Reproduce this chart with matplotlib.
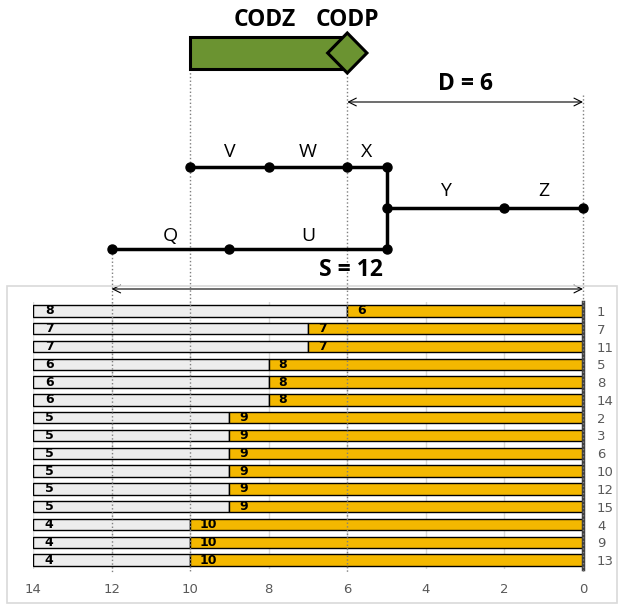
import matplotlib.pyplot as plt
from matplotlib.patches import Rectangle, Polygon

plt.rcParams["font.family"] = ["Open Sans", "DejaVu Sans"]

# bar chart data (top to bottom)
activities = ["1", "7", "11", "5", "8", "14", "2", "3", "6", "10", "12", "15", "4", "9", "13"]
slack = [6, 7, 7, 8, 8, 8, 9, 9, 9, 9, 9, 9, 10, 10, 10]
rest = [8, 7, 7, 6, 6, 6, 5, 5, 5, 5, 5, 5, 4, 4, 4]
horizon = 14

# network diagram: node times on each path
path_vwx = [10, 8, 6, 5]
path_yz = [5, 2, 0]
path_qu = [12, 9, 5]
codz, codp = 10, 6
d_val, s_val = 6, 12

W, H = 618, 604
fig = plt.figure(figsize=(W / 100, H / 100), dpi=100)

# chart frame
fig.patches.append(Rectangle((7 / W, 1 / H), 610 / W, 317 / H, transform=fig.transFigure,
                             fill=False, edgecolor="#D9D9D9", lw=1.2))

x0, x1 = 33 / W, 550 / W
ax = fig.add_axes([x0, 35 / H, x1, 267 / H])
ypos = list(range(len(activities)))
left = [horizon - r for r in rest]
ax.barh(ypos, rest, left=left, height=0.65, color="#EDEDED", edgecolor="black", lw=1, zorder=2)
ax.barh(ypos, slack, left=0, height=0.65, color="#F4B800", edgecolor="black", lw=1, zorder=2)
num = dict(va="center", ha="left", fontsize=9, fontweight="bold", family="DejaVu Sans", zorder=3)
for y, r, s in zip(ypos, rest, slack):
    ax.text(horizon - 0.3, y, str(r), **num)
    ax.text(s - 0.25, y, str(s), **num)
ax.set_xlim(horizon, 0)
ax.set_ylim(len(activities) - 0.5, -0.5)
ax.set_xticks(range(0, horizon + 1, 2))
ax.set_yticks(ypos)
ax.set_yticklabels(activities, family="DejaVu Sans")
for t in ax.get_xticklabels():
    t.set_family("DejaVu Sans")
ax.yaxis.tick_right()
ax.tick_params(axis="y", length=0, pad=10, labelsize=9.5, labelcolor="#595959")
ax.tick_params(axis="x", length=0, pad=10, labelsize=9.5, labelcolor="#595959")
ax.grid(axis="x", color="#D9D9D9", lw=1, zorder=0)
for side in ["left", "top", "bottom"]:
    ax.spines[side].set_visible(False)
ax.spines["right"].set_color("#404040")
ax.spines["right"].set_linewidth(2.5)

# overlay for the diagram, y in pixels from top
top = fig.add_axes([x0, 0, x1, 1])
top.set_xlim(horizon, 0)
top.set_ylim(H, 0)
top.axis("off")
top.patch.set_alpha(0)

bar_bottom = 572
for xv, ys in [(codz, 69), (codp, 73), (0, 95), (path_qu[0], 250)]:
    top.plot([xv, xv], [ys, bar_bottom], ls=":", color="#7F7F7F", lw=1, zorder=1, clip_on=False)

# CODZ / CODP bar
top.add_patch(Rectangle((codp, 37), codz - codp, 32, facecolor="#6B9331", edgecolor="black", lw=2.2, zorder=3))
top.add_patch(Polygon([(codp, 33), (codp - 0.5, 53), (codp, 73), (codp + 0.5, 53)],
                      closed=True, facecolor="#6B9331", edgecolor="black", lw=2.2, zorder=4))
big = dict(ha="center", va="center", fontsize=16.5, fontweight="bold")
top.text((codz + codp) / 2 + 0.1, 20, "CODZ", **big)
top.text(codp, 20, "CODP", **big)

# dimension arrows
arrow = dict(arrowstyle="<->", color="black", lw=0.8, shrinkA=0, shrinkB=0, mutation_scale=14)
top.annotate("", xy=(0, 102), xytext=(d_val, 102), arrowprops=arrow, annotation_clip=False)
top.text(d_val / 2, 84, f"D = {d_val}", **big)
top.annotate("", xy=(0, 289), xytext=(s_val, 289), arrowprops=arrow, annotation_clip=False)
top.text(s_val / 2 - 0.1, 270, f"S = {s_val}", **big)

# network paths
y_top, y_mid, y_bot = 167, 208, 249
node = dict(color="black", lw=2.5, marker="o", ms=6.5, zorder=5, clip_on=False)
top.plot(path_vwx, [y_top] * len(path_vwx), **node)
top.plot(path_yz, [y_mid] * len(path_yz), **node)
top.plot(path_qu, [y_bot] * len(path_qu), **node)
top.plot([path_yz[0]] * 3, [y_top, y_mid, y_bot], color="black", lw=2.5, zorder=4)

lab = dict(ha="center", va="center", fontsize=14)
for name, a, b in [("V", path_vwx[0], path_vwx[1]), ("W", path_vwx[1], path_vwx[2]), ("X", path_vwx[2], path_vwx[3])]:
    top.text((a + b) / 2, y_top - 15, name, **lab)
for name, a, b in [("Y", path_yz[0], path_yz[1]), ("Z", path_yz[1], path_yz[2])]:
    top.text((a + b) / 2, y_mid - 17, name, **lab)
for name, a, b in [("Q", path_qu[0], path_qu[1]), ("U", path_qu[1], path_qu[2])]:
    top.text((a + b) / 2, y_bot - 13, name, **lab)

fig.savefig("out.png", dpi=100)
